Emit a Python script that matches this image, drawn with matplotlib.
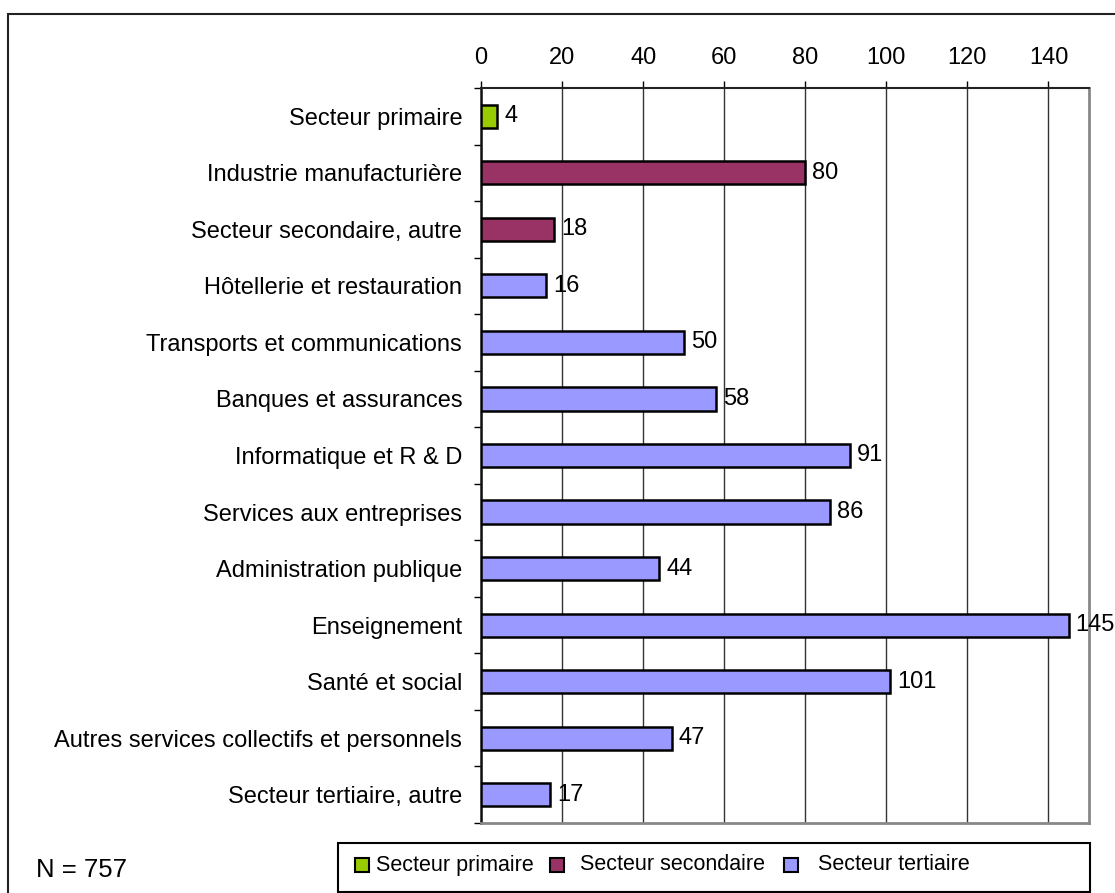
import matplotlib.pyplot as plt
import matplotlib.ticker
from matplotlib.patches import Rectangle
import numpy as np

plt.rcParams['font.family'] = ['Liberation Sans', 'DejaVu Sans']

# secteurs d'activité et effectifs
secteurs = ["Secteur primaire", "Industrie manufacturière", "Secteur secondaire, autre",
            "Hôtellerie et restauration", "Transports et communications",
            "Banques et assurances", "Informatique et R & D", "Services aux entreprises",
            "Administration publique", "Enseignement", "Santé et social",
            "Autres services collectifs et personnels", "Secteur tertiaire, autre"]
effectifs = [4, 80, 18, 16, 50, 58, 91, 86, 44, 145, 101, 47, 17]
groupes = [0, 1, 1, 2, 2, 2, 2, 2, 2, 2, 2, 2, 2]
noms_groupes = ["Secteur primaire", "Secteur secondaire", "Secteur tertiaire"]
couleurs = ["#99CC00", "#993366", "#9999FF"]
x_ticks = [0, 20, 40, 60, 80, 100, 120, 140]

W, H = 1115, 893
fig = plt.figure(figsize=(W / 100, H / 100), dpi=100)
ax = fig.add_axes([481 / W, 1 - 823 / H, (1089 - 481) / W, (823 - 88) / H])

y = np.arange(len(secteurs))
ax.barh(y, effectifs, height=0.41, color=[couleurs[g] for g in groupes],
        edgecolor="black", linewidth=1.8, zorder=3)
for yi, v in zip(y, effectifs):
    ax.annotate(str(v), xy=(v, yi), xytext=(5, 0), textcoords="offset points",
                ha="left", va="center", fontsize=17, zorder=4, annotation_clip=False)

ax.set_xlim(0, 150)
ax.set_ylim(len(secteurs) - 0.5, -0.5)
ax.xaxis.tick_top()
ax.xaxis.set_major_locator(matplotlib.ticker.FixedLocator(x_ticks))
ax.tick_params(axis="x", direction="out", length=5, width=1, labelsize=17, pad=9)
ax.grid(axis="x", color="#333333", linewidth=1, zorder=0)

ax.set_yticks(y)
ax.set_yticklabels(secteurs, fontsize=17)
ax.yaxis.set_minor_locator(matplotlib.ticker.FixedLocator(np.arange(-0.5, len(secteurs), 1)))
ax.tick_params(axis="y", which="major", length=0, pad=13.5)
ax.tick_params(axis="y", which="minor", direction="out", length=5, width=1)

ax.spines["top"].set_color("#222222")
ax.spines["top"].set_linewidth(1.5)
ax.spines["left"].set_color("#111111")
ax.spines["left"].set_linewidth(1.8)
ax.spines["right"].set_color("#888888")
ax.spines["right"].set_linewidth(2)
ax.spines["bottom"].set_color("#888888")
ax.spines["bottom"].set_linewidth(2)

# légende : cadre, carrés et libellés
fig.patches.append(Rectangle((338 / W, 1 - 892 / H), (1090 - 338) / W, (892 - 843) / H,
                             transform=fig.transFigure, fill=False,
                             edgecolor="black", linewidth=1.5))
legende_x = [(355, 376), (550, 580), (784, 818)]
yc = 1 - 865 / H
for (xs, xt), c, nom in zip(legende_x, couleurs, noms_groupes):
    fig.patches.append(Rectangle((xs / W, yc - 7 / H), 14 / W, 14 / H,
                                 transform=fig.transFigure, facecolor=c,
                                 edgecolor="black", linewidth=1.5))
    fig.text(xt / W, yc, nom, fontsize=15.5, ha="left", va="center")

fig.text(36 / W, 1 - 870 / H, "N = 757", fontsize=18.5, ha="left", va="center")

# cadre autour de la figure
fig.patches.append(Rectangle((8 / W, -0.1), 1.2, 1.1 - 14 / H, transform=fig.transFigure,
                             fill=False, edgecolor="#222222", linewidth=1.5))

fig.savefig("out.png", dpi=100)
